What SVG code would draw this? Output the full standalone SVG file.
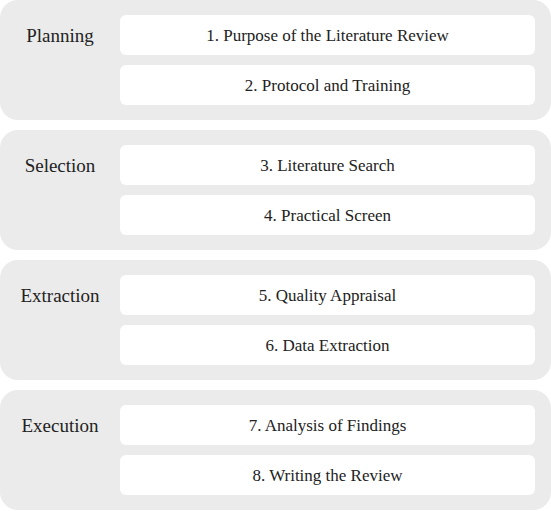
<svg xmlns="http://www.w3.org/2000/svg" width="551" height="511" viewBox="0 0 551 511">
<style>
.panel{fill:#ebebeb}
.box{fill:#ffffff}
text{font-family:'Liberation Serif','Times New Roman',serif;fill:#222;text-anchor:middle;dominant-baseline:central}
.lbl{font-size:19px}
.txt{font-size:17px}
</style>
<g id="connectors"></g>
<g id="planning">
<rect class="panel" x="0" y="0" width="551" height="120" rx="18"/>
<text class="lbl" x="60" y="35">Planning</text>
</g>
<g id="step1"><rect class="box" x="120" y="15" width="415" height="40" rx="6"/><text class="txt" x="327.5" y="35">1. Purpose of the Literature Review</text></g>
<g id="step2"><rect class="box" x="120" y="65" width="415" height="40" rx="6"/><text class="txt" x="327.5" y="85">2. Protocol and Training</text></g>
<g id="selection">
<rect class="panel" x="0" y="130" width="551" height="120" rx="18"/>
<text class="lbl" x="60" y="165">Selection</text>
</g>
<g id="step3"><rect class="box" x="120" y="145" width="415" height="40" rx="6"/><text class="txt" x="327.5" y="165">3. Literature Search</text></g>
<g id="step4"><rect class="box" x="120" y="195" width="415" height="40" rx="6"/><text class="txt" x="327.5" y="215">4. Practical Screen</text></g>
<g id="extraction">
<rect class="panel" x="0" y="260" width="551" height="120" rx="18"/>
<text class="lbl" x="60" y="295">Extraction</text>
</g>
<g id="step5"><rect class="box" x="120" y="275" width="415" height="40" rx="6"/><text class="txt" x="327.5" y="295">5. Quality Appraisal</text></g>
<g id="step6"><rect class="box" x="120" y="325" width="415" height="40" rx="6"/><text class="txt" x="327.5" y="345">6. Data Extraction</text></g>
<g id="execution">
<rect class="panel" x="0" y="390" width="551" height="120" rx="18"/>
<text class="lbl" x="60" y="425">Execution</text>
</g>
<g id="step7"><rect class="box" x="120" y="405" width="415" height="40" rx="6"/><text class="txt" x="327.5" y="425">7. Analysis of Findings</text></g>
<g id="step8"><rect class="box" x="120" y="455" width="415" height="40" rx="6"/><text class="txt" x="327.5" y="475">8. Writing the Review</text></g>
</svg>
